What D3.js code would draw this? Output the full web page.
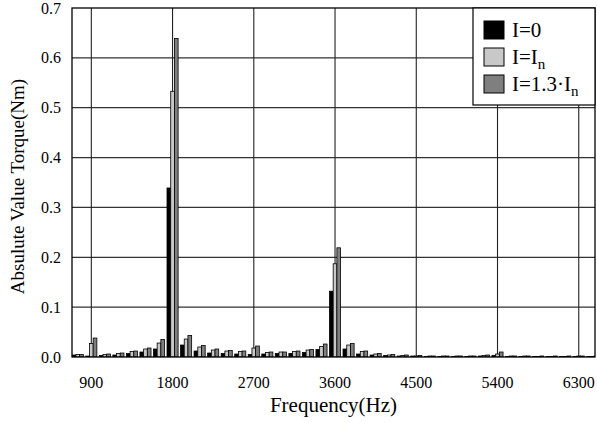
<!DOCTYPE html>
<html>
<head>
<meta charset="utf-8">
<script src="https://cdn.jsdelivr.net/npm/d3@7"></script>
<style>
  body { margin: 0; background: #fff; }
  svg text { font-family: "Liberation Serif", "Times New Roman", Times, serif; fill: #000; }
</style>
</head>
<body>
<div class="chart"></div>
<script>
// harmonic frequencies (Hz)
const freqs = [750, 900, 1050, 1200, 1350, 1500, 1650, 1800, 1950, 2100, 2250, 2400, 2550,
  2700, 2850, 3000, 3150, 3300, 3450, 3600, 3750, 3900, 4050, 4200, 4350, 4500, 4650,
  4800, 4950, 5100, 5250, 5400, 5550, 5700, 5850, 6000, 6150, 6300, 6450];

// torque amplitudes (Nm)
const torqueI0 = [0.004, 0.002, 0.003, 0.004, 0.007, 0.010, 0.016, 0.339, 0.024, 0.012, 0.008, 0.007, 0.006,
  0.005, 0.006, 0.007, 0.007, 0.009, 0.015, 0.132, 0.016, 0.006, 0.004, 0.003, 0.002, 0.002, 0.001,
  0.001, 0.001, 0.001, 0.002, 0.003, 0.001, 0.001, 0.001, 0.001, 0.001, 0.001, 0.001];
const torqueIn = [0.005, 0.027, 0.005, 0.007, 0.011, 0.016, 0.028, 0.533, 0.036, 0.020, 0.014, 0.012, 0.011,
  0.018, 0.009, 0.010, 0.011, 0.014, 0.021, 0.187, 0.024, 0.011, 0.006, 0.004, 0.003, 0.002, 0.002,
  0.002, 0.002, 0.002, 0.003, 0.006, 0.002, 0.002, 0.001, 0.001, 0.001, 0.002, 0.001];
const torque13In = [0.005, 0.038, 0.006, 0.008, 0.012, 0.018, 0.035, 0.639, 0.043, 0.023, 0.016, 0.013, 0.012,
  0.022, 0.010, 0.010, 0.012, 0.015, 0.026, 0.219, 0.027, 0.012, 0.007, 0.005, 0.004, 0.003, 0.002,
  0.002, 0.002, 0.002, 0.004, 0.010, 0.002, 0.002, 0.002, 0.002, 0.002, 0.002, 0.002];

const xTicks = [900, 1800, 2700, 3600, 4500, 5400, 6300];
const yTicks = [0.0, 0.1, 0.2, 0.3, 0.4, 0.5, 0.6, 0.7];

const seriesNames = ['I0', 'In', 'I13'];
const seriesColor = { I0: '#000000', In: '#c8c8c8', I13: '#7f7f7f' };

const W = 597, H = 423;
const margin = { top: 8, right: 2, bottom: 66, left: 72 };
const iw = W - margin.left - margin.right,
  ih = H - margin.top - margin.bottom;

const svg = d3.select('.chart').append('svg')
  .attr('width', W).attr('height', H);
const g = svg.append('g')
  .attr('transform', `translate(${margin.left},${margin.top})`);

const x = d3.scaleLinear().domain([686, 6480]).range([0, iw]);
const y = d3.scaleLinear().domain([0, 0.7]).range([ih, 0]);

const step = x(freqs[1]) - x(freqs[0]);
const inner = d3.scaleBand().domain(seriesNames)
  .range([-step * 0.41, step * 0.41]);

g.append('defs').append('clipPath').attr('id', 'clip')
  .append('rect').attr('width', iw).attr('height', ih);

// grid
g.append('g').selectAll('line').data(yTicks.slice(1, -1)).enter().append('line')
  .attr('x1', 0).attr('x2', iw)
  .attr('y1', d => y(d)).attr('y2', d => y(d))
  .style('stroke', '#333').style('stroke-width', 1.3);
g.append('g').selectAll('line').data(xTicks).enter().append('line')
  .attr('x1', d => x(d)).attr('x2', d => x(d))
  .attr('y1', 0).attr('y2', ih)
  .style('stroke', '#222').style('stroke-width', 1.1);

// bars
const rows = freqs.map((f, i) => ({
  f: f,
  vals: [
    { key: 'I0', v: torqueI0[i] },
    { key: 'In', v: torqueIn[i] },
    { key: 'I13', v: torque13In[i] }
  ]
}));

g.append('g').attr('clip-path', 'url(#clip)')
  .selectAll('.grp').data(rows).enter().append('g')
  .attr('class', 'grp')
  .attr('transform', d => `translate(${x(d.f)},0)`)
  .selectAll('rect').data(d => d.vals).enter().append('rect')
  .attr('x', d => inner(d.key))
  .attr('width', inner.bandwidth())
  .attr('y', d => y(d.v))
  .attr('height', d => ih - y(d.v))
  .style('fill', d => seriesColor[d.key])
  .style('stroke', '#000')
  .style('stroke-width', 0.8);

// frame
g.append('rect').attr('width', iw).attr('height', ih)
  .style('fill', 'none').style('stroke', '#000').style('stroke-width', 1.3);

// tick labels
g.append('g').selectAll('text').data(yTicks).enter().append('text')
  .attr('x', -11).attr('y', d => y(d)).attr('dy', '0.35em')
  .attr('text-anchor', 'end').style('font-size', '16px')
  .text(d => d3.format('.1f')(d));
g.append('g').selectAll('text').data(xTicks).enter().append('text')
  .attr('x', d => x(d)).attr('y', ih + 31)
  .attr('text-anchor', 'middle').style('font-size', '16px')
  .text(d => d);

// axis titles
svg.append('text')
  .attr('x', margin.left + iw / 2).attr('y', 412)
  .attr('text-anchor', 'middle').style('font-size', '21px')
  .text('Frequency(Hz)');
svg.append('text')
  .attr('transform', `translate(24,${margin.top + ih / 2 + 4}) rotate(-90)`)
  .attr('text-anchor', 'middle').style('font-size', '19px')
  .text('Absulute Value Torque(Nm)');

// legend
const lg = svg.append('g').attr('transform', 'translate(473,8)');
lg.append('rect').attr('width', 122).attr('height', 97)
  .style('fill', '#fff').style('stroke', '#000').style('stroke-width', 1.2);
const items = lg.selectAll('.item').data(seriesNames).enter().append('g')
  .attr('transform', (d, i) => `translate(11,${13 + i * 27})`);
items.append('rect').attr('width', 20).attr('height', 18)
  .style('fill', d => seriesColor[d]).style('stroke', '#000').style('stroke-width', 1);
const labels = items.append('text').attr('x', 28).attr('y', 16).style('font-size', '21px');
labels.filter(d => d === 'I0').text('I=0');
labels.filter(d => d === 'In').each(function () {
  const t = d3.select(this);
  t.append('tspan').text('I=I');
  t.append('tspan').attr('dy', 5).style('font-size', '15px').text('n');
});
labels.filter(d => d === 'I13').each(function () {
  const t = d3.select(this);
  t.append('tspan').text('I=1.3\u00b7I');
  t.append('tspan').attr('dy', 5).style('font-size', '15px').text('n');
});
</script>
</body>
</html>
